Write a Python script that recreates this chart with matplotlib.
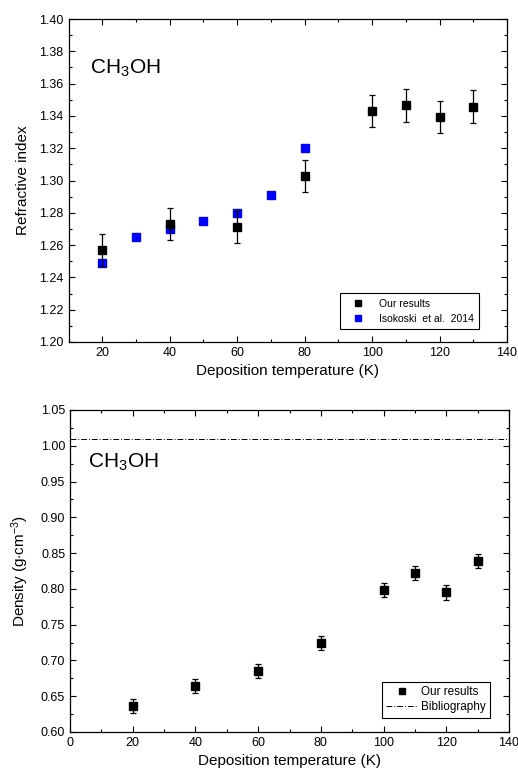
import numpy as np
import matplotlib
matplotlib.use("Agg")
import matplotlib.pyplot as plt
from matplotlib.ticker import MultipleLocator

plt.rcParams['font.family'] = ['Liberation Sans', 'DejaVu Sans']
plt.rcParams['mathtext.fontset'] = 'custom'
plt.rcParams['mathtext.rm'] = 'Liberation Sans'
plt.rcParams['mathtext.it'] = 'Liberation Sans:italic'
plt.rcParams['mathtext.bf'] = 'Liberation Sans:bold'

# refractive index
temp_ours = [20, 40, 60, 80, 100, 110, 120, 130]
n_ours = [1.257, 1.273, 1.271, 1.303, 1.343, 1.3465, 1.3395, 1.3458]
n_err = [0.01, 0.01, 0.01, 0.01, 0.01, 0.01, 0.01, 0.01]

temp_iso = [20, 30, 40, 50, 60, 70, 80]
n_iso = [1.249, 1.265, 1.270, 1.275, 1.280, 1.291, 1.320]

# density
temp_dens = [20, 40, 60, 80, 100, 110, 120, 130]
dens = [0.636, 0.664, 0.685, 0.724, 0.798, 0.822, 0.795, 0.839]
dens_err = [0.01, 0.01, 0.01, 0.01, 0.01, 0.01, 0.01, 0.01]
dens_bib = 1.01

fig = plt.figure(figsize=(5.18, 7.78), dpi=100)
W, H = 518, 778
ax1 = fig.add_axes([68.5 / W, 1 - 342 / H, (507 - 68.5) / W, (342 - 19) / H])
ax2 = fig.add_axes([70 / W, 1 - 732 / H, (509 - 70) / W, (732 - 410) / H])


def style(ax):
    ax.tick_params(which='both', direction='in', top=True, right=True,
                   labelsize=9, width=0.8)
    ax.tick_params(which='major', length=4.5)
    ax.tick_params(which='minor', length=2.5)
    for s in ax.spines.values():
        s.set_linewidth(0.9)


# top panel
ax1.errorbar(temp_ours, n_ours, yerr=n_err, fmt='s', color='black', ms=5.5,
             elinewidth=0.9, capsize=2.5, capthick=0.9, zorder=3)
ax1.plot(temp_iso, n_iso, 's', color='#0000ff', ms=5.5, zorder=2)
ax1.set_xlim(10, 140)
ax1.set_ylim(1.20, 1.40)
ax1.xaxis.set_major_locator(MultipleLocator(20))
ax1.xaxis.set_minor_locator(MultipleLocator(10))
ax1.yaxis.set_major_locator(MultipleLocator(0.02))
ax1.yaxis.set_minor_locator(MultipleLocator(0.01))
ax1.yaxis.set_major_formatter(plt.FormatStrFormatter('%.2f'))
style(ax1)
ax1.set_xlabel('Deposition temperature (K)', fontsize=11, labelpad=4)
ax1.set_ylabel('Refractive index', fontsize=11, labelpad=7)
ax1.text(0.05, 0.83, r'CH$_{\mathregular{3}}$OH', transform=ax1.transAxes, fontsize=15)
h1 = [plt.Line2D([], [], marker='s', ls='', color='black', ms=5),
      plt.Line2D([], [], marker='s', ls='', color='#0000ff', ms=5)]
ax1.legend(h1, ['Our results', 'Isokoski  et al.  2014'], loc='lower right',
           bbox_to_anchor=(0.936, 0.04), borderaxespad=0, fontsize=7.5, fancybox=False,
           edgecolor='black', framealpha=1, handletextpad=0.8, handlelength=2.4,
           borderpad=0.5, labelspacing=0.5).get_frame().set_linewidth(0.8)

# bottom panel
ax2.errorbar(temp_dens, dens, yerr=dens_err, fmt='s', color='black', ms=5.5,
             elinewidth=0.9, capsize=2.5, capthick=0.9)
ax2.axhline(dens_bib, color='black', lw=0.7, ls=(0, (6, 2, 1, 2)))
ax2.set_xlim(0, 140)
ax2.set_ylim(0.60, 1.05)
ax2.xaxis.set_major_locator(MultipleLocator(20))
ax2.xaxis.set_minor_locator(MultipleLocator(10))
ax2.yaxis.set_major_locator(MultipleLocator(0.05))
ax2.yaxis.set_minor_locator(MultipleLocator(0.025))
ax2.yaxis.set_major_formatter(plt.FormatStrFormatter('%.2f'))
style(ax2)
ax2.set_xlabel('Deposition temperature (K)', fontsize=11, labelpad=4)
ax2.set_ylabel(r'Density (g$\cdot$cm$^{\mathregular{-3}}$)', fontsize=11, labelpad=7)
ax2.text(0.04, 0.82, r'CH$_{\mathregular{3}}$OH', transform=ax2.transAxes, fontsize=15)
h2 = [plt.Line2D([], [], marker='s', ls='', color='black', ms=5),
      plt.Line2D([], [], color='black', lw=0.7, ls=(0, (6, 2, 1, 2)))]
ax2.legend(h2, ['Our results', 'Bibliography'], loc='lower right',
           bbox_to_anchor=(0.957, 0.043), borderaxespad=0, fontsize=8.5, fancybox=False,
           edgecolor='black', framealpha=1, handlelength=2.6, handletextpad=0.3,
           borderpad=0.4, labelspacing=0.25).get_frame().set_linewidth(0.8)

fig.savefig('out.png', dpi=100)
